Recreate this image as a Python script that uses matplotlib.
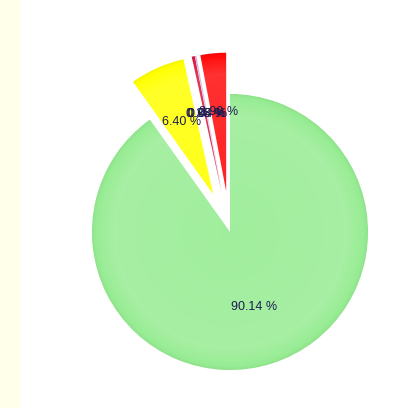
import matplotlib
matplotlib.use("Agg")
import matplotlib.pyplot as plt
import numpy as np
from matplotlib.patches import Rectangle
from matplotlib.colors import to_rgb

categories = ["A", "B", "C", "D", "E", "F"]
values = [90.14, 6.40, 0.35, 0.08, 0.04, 2.99]
colors = ["#96EC92", "#FFFF00", "#DC143C", "#8A8AE6", "#F4B0C0", "#FF0A0A"]
explode = [0.0, 0.3, 0.3, 0.3, 0.3, 0.3]

W, H = 406, 408
fig = plt.figure(figsize=(W / 100, H / 100), dpi=100)
fig.patch.set_facecolor("white")
fig.patches.append(Rectangle((0, 0), 20 / W, 1, transform=fig.transFigure,
                             facecolor="#FFFFEA", edgecolor="none", zorder=0))

cx, cy, R = 230, 232, 138
ax = fig.add_axes([0, 0, 1, 1])
ax.set_facecolor("none")
wedges, texts, autotexts = ax.pie(
    values, colors=colors, explode=explode, startangle=90, counterclock=False,
    autopct="%.2f %%", pctdistance=0.57, radius=1.0,
    wedgeprops=dict(edgecolor="white", linewidth=0.6),
    textprops=dict(color="#1C1C50", fontsize=9, family="Liberation Sans"))

# radial shading inside each wedge (lighter ring, darker rim)
n = 400
xlim = (-cx / R, (W - cx) / R)
ylim = (-(H - cy) / R, cy / R)
for w, col in zip(wedges, colors):
    c = np.array(to_rgb(col))
    lx, ly = w.center
    xs = np.linspace(xlim[0], xlim[1], n)
    ys = np.linspace(ylim[0], ylim[1], n)
    X, Y = np.meshgrid(xs, ys)
    r = np.hypot(X - lx, Y - ly) / w.r
    light = np.clip(np.interp(r, [0, 0.6, 0.85, 0.95, 1.0], [0.10, 0.14, 0.16, 0.05, -0.04]), -1, 1)
    img = np.empty(r.shape + (3,))
    for k in range(3):
        ch = np.where(light >= 0, c[k] + (1 - c[k]) * light, c[k] * (1 + light))
        img[..., k] = ch
    im = ax.imshow(img, extent=(xlim[0], xlim[1], ylim[0], ylim[1]), origin="lower",
                   zorder=w.get_zorder() + 0.1, interpolation="bilinear")
    im.set_clip_path(w)

for t in autotexts:
    t.set_zorder(5)
ax.set_xlim(*xlim)
ax.set_ylim(*ylim)
ax.set_aspect("equal")
ax.axis("off")

fig.savefig("out.png", dpi=100)
